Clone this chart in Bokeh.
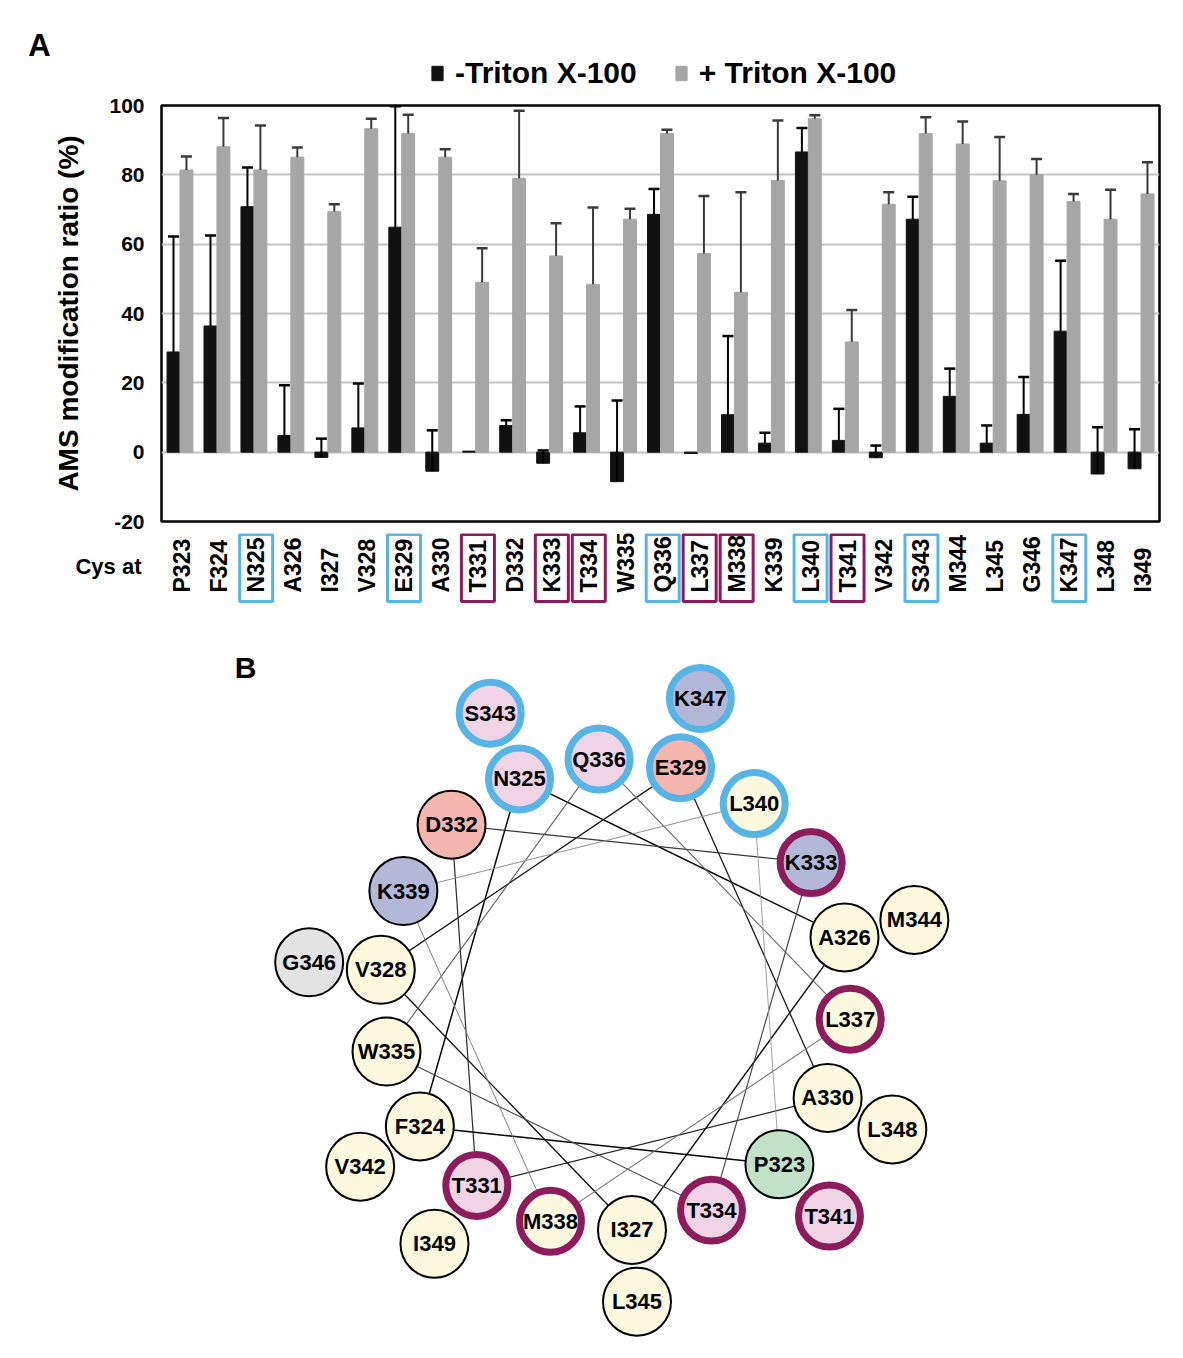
import numpy as np
from bokeh.plotting import figure
from bokeh.models import (ColumnDataSource, FactorRange, Range1d, Legend, LegendItem,
                          Label, FixedTicker)
from bokeh.transform import dodge
from bokeh.layouts import column
from bokeh.core.properties import value
from bokeh.embed import file_html
from bokeh.resources import INLINE

# ---------------- data ----------------
residues = ["P323", "F324", "N325", "A326", "I327", "V328", "E329", "A330", "T331",
            "D332", "K333", "T334", "W335", "Q336", "L337", "M338", "K339", "L340",
            "T341", "V342", "S343", "M344", "L345", "G346", "K347", "L348", "I349"]
minus_triton = [28.9, 36.4, 70.8, 4.8, -1.5, 7.0, 64.9, -5.5, 0.3,
                7.7, -3.2, 5.6, -8.5, 68.6, -0.4, 10.8, 2.6, 86.6,
                3.4, -1.6, 67.2, 16.1, 2.6, 10.9, 34.9, -6.3, -4.8]
minus_err = [33.3, 26.1, 11.3, 14.5, 5.4, 12.8, 34.9, 11.8, 0.0,
             1.5, 3.7, 7.6, 23.4, 7.3, 0.0, 22.7, 3.0, 6.9,
             9.1, 3.5, 6.5, 8.0, 5.1, 10.8, 20.3, 13.5, 11.4]
plus_triton = [81.4, 88.1, 81.4, 85.1, 69.4, 93.3, 91.9, 85.1, 49.0,
               79.0, 56.6, 48.4, 67.2, 91.9, 57.3, 46.1, 78.4, 96.2,
               31.8, 71.5, 91.9, 88.9, 78.3, 80.0, 72.3, 67.2, 74.5]
plus_err = [3.9, 8.3, 12.8, 2.8, 2.1, 2.9, 5.4, 2.3, 9.8,
            19.5, 9.4, 22.2, 3.0, 1.1, 16.6, 28.9, 17.3, 1.0,
            9.2, 3.5, 4.7, 6.5, 12.6, 4.6, 2.2, 8.5, 9.1]
y_ticks = [-20, 0, 20, 40, 60, 80, 100]
series_labels = ["-Triton X-100", "+ Triton X-100"]
blue_boxed = ["N325", "E329", "Q336", "L340", "S343", "K347"]
purple_boxed = ["T331", "K333", "T334", "L337", "M338", "T341"]
aa_class = {"P": "pro", "G": "gly", "F": "hyd", "A": "hyd", "I": "hyd", "V": "hyd",
            "L": "hyd", "M": "hyd", "W": "hyd", "N": "pol", "T": "pol", "Q": "pol",
            "S": "pol", "E": "acid", "D": "acid", "K": "base"}

# ---------------- styles / layout ----------------
FONT_NAME = "Liberation Sans"
FONT = value(FONT_NAME)
BLACK_BAR = "#111111"
GRAY_BAR = "#a6a6a6"
BLUE = "#57b5e6"
PURPLE = "#8c1c5b"
class_fill = {"pro": "#c2e2c8", "gly": "#e3e3e3", "hyd": "#fdf9df",
              "pol": "#f1d3e6", "acid": "#f4b6ae", "base": "#b4b8d8"}
W = 1175
LB, RB = 161, W - 1159
DX = 0.175
HT = 93                        # header strip (panel letter + legend)
TOPA, FRAME_H, BOTA = 12, 416, 12
HA = TOPA + FRAME_H + BOTA     # bar chart
HL = 81                        # category labels
HB = 735                       # helical wheel


def no_align(p):
    if "frame_align" in p.properties():
        p.frame_align = False


# ---------------- header: "A" + legend ----------------
pT = figure(x_range=Range1d(0, W), y_range=Range1d(0, HT), width=W, height=HT,
            title=None, toolbar_location=None, output_backend="svg", min_border=0)
no_align(pT)
pT.axis.visible = False
pT.grid.visible = False
pT.outline_line_color = None
# legend proxies (kept outside the visible area)
d_minus = pT.vbar(x=[-500], top=[-500], bottom=[-501], width=1, color=BLACK_BAR)
d_plus = pT.vbar(x=[-500], top=[-500], bottom=[-501], width=1, color=GRAY_BAR)
legend = Legend(items=[LegendItem(label=series_labels[0], renderers=[d_minus]),
                       LegendItem(label=series_labels[1], renderers=[d_plus])],
                orientation="horizontal", location=(430, 3),
                label_text_font=FONT_NAME, label_text_font_size="30px",
                label_text_font_style="bold", label_text_color="black",
                glyph_width=14, glyph_height=18, label_standoff=11, spacing=37,
                padding=0, margin=0, border_line_color=None,
                background_fill_alpha=0)
pT.add_layout(legend)
pT.text(x=[39], y=[HT - 45], text=["A"], text_align="center", text_baseline="middle",
        text_font=FONT, text_font_size="31px", text_font_style="bold", text_color="black")

# ---------------- panel A: bars ----------------
src = ColumnDataSource(dict(res=residues, minus=minus_triton, plus=plus_triton))

pA = figure(x_range=FactorRange(factors=residues), y_range=Range1d(-20, 100),
            width=W, height=HA, title=None, toolbar_location=None,
            output_backend="svg", min_border_left=LB, min_border_right=RB,
            min_border_top=TOPA, min_border_bottom=BOTA)
pA.xaxis.visible = False
pA.xgrid.visible = False
pA.ygrid.ticker = FixedTicker(ticks=y_ticks)
pA.ygrid.grid_line_color = "#c3c3c3"
pA.ygrid.grid_line_width = 2
pA.outline_line_color = "black"
pA.outline_line_width = 2.5
ya = pA.yaxis[0]
ya.ticker = FixedTicker(ticks=y_ticks)
ya.major_label_overrides = {t: str(t) for t in y_ticks}
ya.axis_line_color = None
ya.major_tick_line_color = None
ya.minor_tick_line_color = None
ya.major_tick_out = 0
ya.major_label_standoff = 17
ya.major_label_text_font = FONT_NAME
ya.major_label_text_font_size = "21px"
ya.major_label_text_font_style = "bold"
ya.major_label_text_color = "black"
ya.axis_label = "AMS modification ratio (%)"
ya.axis_label_text_font = FONT_NAME
ya.axis_label_text_font_size = "28px"
ya.axis_label_text_font_style = "bold"
ya.axis_label_text_color = "black"
ya.axis_label_standoff = 22

xm = dodge("res", -DX, range=pA.x_range)
xp = dodge("res", DX, range=pA.x_range)
pA.vbar(x=xm, top="minus", bottom=0, width=2 * DX, color=BLACK_BAR, source=src)
pA.vbar(x=xp, top="plus", bottom=0, width=2 * DX, color=GRAY_BAR, source=src)


def err_source(vals, errs):
    keep = [i for i, e in enumerate(errs) if e > 0]
    return ColumnDataSource(dict(res=[residues[i] for i in keep],
                                 y0=[vals[i] for i in keep],
                                 y1=[vals[i] + errs[i] for i in keep]))


for vals, errs, xs, col in [(minus_triton, minus_err, xm, "#000000"),
                            (plus_triton, plus_err, xp, "#3a3a3a")]:
    es = err_source(vals, errs)
    pA.segment(x0=xs, y0="y0", x1=xs, y1="y1", line_color=col, line_width=2, source=es)
    pA.scatter(x=xs, y="y1", marker="dash", size=11, line_width=2.5, line_color=col, source=es)

# ---------------- panel A: category labels ----------------
pL = figure(x_range=pA.x_range, y_range=Range1d(0, HL), width=W, height=HL,
            title=None, toolbar_location=None, output_backend="svg",
            min_border_left=LB, min_border_right=RB, min_border_top=0,
            min_border_bottom=0)
pL.xaxis.visible = False
pL.grid.visible = False
pL.outline_line_color = None
yl = pL.yaxis[0]
yl.ticker = FixedTicker(ticks=[48])
yl.major_label_overrides = {48: "Cys at"}
yl.axis_line_color = None
yl.major_tick_line_color = None
yl.minor_tick_line_color = None
yl.major_tick_out = 0
yl.major_label_standoff = 20
yl.major_label_text_font = FONT_NAME
yl.major_label_text_font_size = "22px"
yl.major_label_text_font_style = "bold"
yl.major_label_text_color = "black"

lab_src = ColumnDataSource(dict(res=residues))
xl = dodge("res", 0.06, range=pL.x_range)
pL.text(x=xl, y=22, text="res", angle=np.pi / 2, text_align="left",
        text_baseline="middle", text_font=FONT, text_font_size="23px",
        text_font_style="bold", text_color="black", source=lab_src)
box_res = blue_boxed + purple_boxed
box_col = [BLUE] * len(blue_boxed) + [PURPLE] * len(purple_boxed)
box_src = ColumnDataSource(dict(res=box_res, col=box_col))
pL.rect(x=xl, y=46.5, width=33, width_units="screen", height=67, height_units="screen",
        fill_color=None, line_color="col", line_width=3, source=box_src)

# ---------------- panel B: helical wheel ----------------
pB = figure(x_range=Range1d(0, W), y_range=Range1d(0, HB), width=W, height=HB,
            title=None, toolbar_location=None, output_backend="svg", min_border=0)
no_align(pB)
pB.axis.visible = False
pB.grid.visible = False
pB.outline_line_color = None

CX, CY = 615, 355
R_IN, R_OUT = 236, 308
START, STEP, TURN = 46, 100, 18
idx = np.arange(len(residues))
ring_r = np.where(idx < TURN, R_IN, R_OUT)
theta = -np.deg2rad(START + STEP * idx)
wx = CX + ring_r * np.cos(theta)
wy = CY + ring_r * np.sin(theta)

# connecting lines along the inner turn
k = np.arange(TURN)
t0 = -np.deg2rad(START + STEP * k)
t1 = -np.deg2rad(START + STEP * (k + 1))
frac = k / (TURN - 1)
grey = (np.clip(frac, 0, 1) ** 1.6 * 150).astype(int)
line_cols = ["#%02x%02x%02x" % (g, g, g) for g in grey]
line_w = list(1.5 - 0.6 * frac)
pB.segment(x0=CX + R_IN * np.cos(t0), y0=CY + R_IN * np.sin(t0),
           x1=CX + R_IN * np.cos(t1), y1=CY + R_IN * np.sin(t1),
           line_color=line_cols, line_width=line_w)

fills, borders, bw, rad = [], [], [], []
for r in residues:
    fills.append(class_fill[aa_class[r[0]]])
    if r in blue_boxed:
        borders.append(BLUE); bw.append(7); rad.append(31)
    elif r in purple_boxed:
        borders.append(PURPLE); bw.append(7); rad.append(31)
    else:
        borders.append("#000000"); bw.append(2); rad.append(34)
wsrc = ColumnDataSource(dict(x=wx, y=wy, res=residues, fill=fills, border=borders,
                             bw=bw, rad=rad))
pB.circle(x="x", y="y", radius="rad", fill_color="fill", line_color="border",
          line_width="bw", source=wsrc)
pB.text(x="x", y="y", text="res", text_align="center", text_baseline="middle",
        text_font=FONT, text_font_size="22px", text_font_style="bold",
        text_color="black", source=wsrc)
pB.text(x=[245], y=[HB - 53], text=["B"], text_align="center", text_baseline="middle",
        text_font=FONT, text_font_size="30px", text_font_style="bold", text_color="black")

layout = column(pT, pA, pL, pB)
open("out.html", "w").write(file_html(layout, INLINE))
